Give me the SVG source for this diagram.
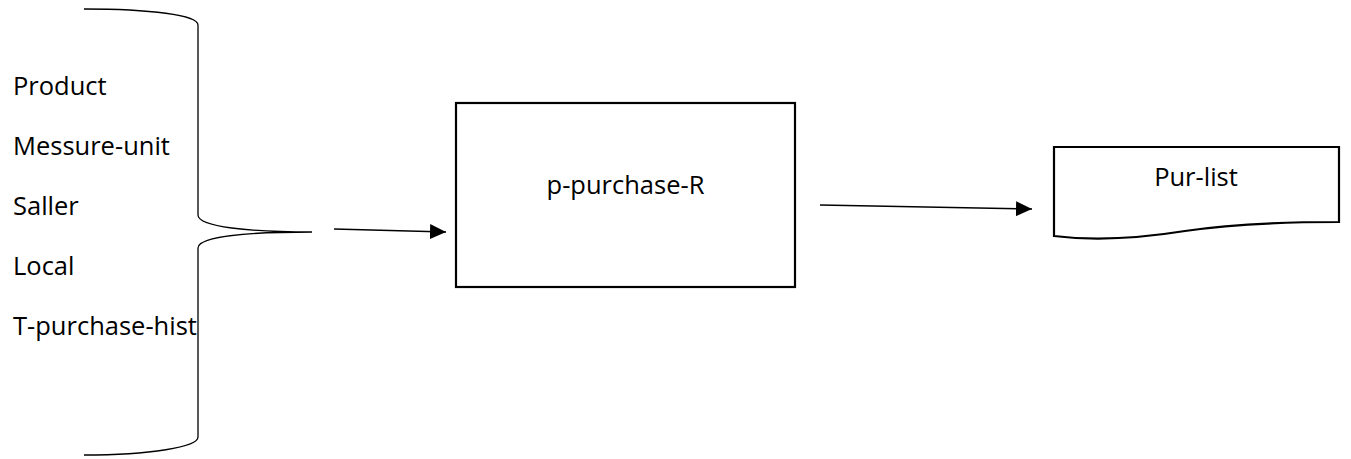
<svg xmlns="http://www.w3.org/2000/svg" width="1351" height="459" viewBox="0 0 1351 459">
<style>
.t{font-family:"Open Sans","Liberation Sans",sans-serif;font-size:25.5px;fill:#000}
.s{fill:none;stroke:#000;stroke-width:1.3}
.b{fill:#fff;stroke:#000;stroke-width:2.2}
</style>
<defs>
<marker id="ah" markerWidth="16" markerHeight="15" refX="16" refY="7.5" orient="auto" markerUnits="userSpaceOnUse">
<path d="M0,0 L16,7.5 L0,15 Z" fill="#000"/>
</marker>
</defs>
<rect width="1351" height="459" fill="#fff"/>
<g id="inputs">
<path class="s" d="M84,9 C150,9 198,15 198,25 V215 C198,227 250,232 312,232 M312,232 C250,232 198,236 198,248 V437 C198,447 150,455 84,455"/>
<text class="t" x="13" y="95">Product</text>
<text class="t" x="13" y="155">Messure-unit</text>
<text class="t" x="13" y="215">Saller</text>
<text class="t" x="13" y="275">Local</text>
<text class="t" x="13" y="335">T-purchase-hist</text>
</g>
<g id="process">
<rect class="b" x="456" y="103" width="339" height="184"/>
<text class="t" x="625.5" y="194" text-anchor="middle">p-purchase-R</text>
</g>
<g id="document">
<path class="b" d="M1054,147 H1339 V222 C1275,222 1225,225 1185,231 C1135,239 1095,241 1054,236 Z"/>
<text class="t" x="1196" y="186" text-anchor="middle">Pur-list</text>
</g>
<g id="connectors">
<line class="s" x1="334" y1="229" x2="446" y2="232" marker-end="url(#ah)"/>
<line class="s" x1="820" y1="205" x2="1032" y2="209" marker-end="url(#ah)"/>
</g>
</svg>
